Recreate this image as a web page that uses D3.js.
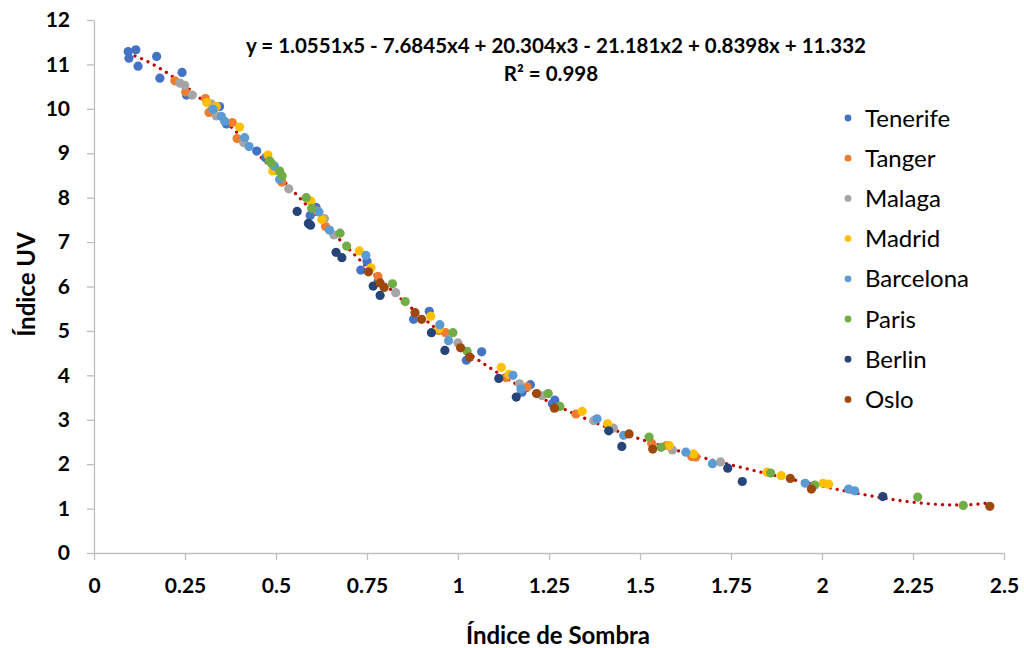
<!DOCTYPE html>
<html>
<head>
<meta charset="utf-8">
<script src="https://cdn.jsdelivr.net/npm/d3@7"></script>
<style>
  html, body { margin: 0; padding: 0; background: #fff; }
  svg text { font-family: Lato, "Noto Sans", sans-serif; }
</style>
</head>
<body>
<svg id="chart"></svg>
<script>
// ====== Données ====== //
const cities = ["Tenerife", "Tanger", "Malaga", "Madrid", "Barcelona", "Paris", "Berlin", "Oslo"];
const colors = ["#4472C4", "#ED7D31", "#A5A5A5", "#FFC000", "#5B9BD5", "#70AD47", "#264478", "#9E480E"];

// [indice de sombra, indice UV]
const tenerife = [[0.094,11.29],[0.115,11.33],[0.096,11.14],[0.121,10.96],[0.172,11.18],[0.181,10.69],[0.242,10.82],[0.254,10.31],[0.345,10.05],[0.364,9.66],[0.447,9.05],[0.471,8.9],[0.61,7.78],[0.594,7.6],[0.75,6.57],[0.733,6.37],[0.781,6.14],[0.921,5.44],[0.878,5.26],[1.023,4.34],[1.065,4.53],[1.199,3.79],[1.176,3.62],[1.259,3.36],[1.266,3.44]];
const tanger = [[0.222,10.63],[0.252,10.38],[0.306,10.23],[0.316,9.92],[0.38,9.69],[0.393,9.33],[0.516,8.35],[0.613,7.7],[0.636,7.35],[0.78,6.23],[0.966,4.96],[0.948,5.01],[1.131,3.95],[1.19,3.74],[1.324,3.13],[1.532,2.47],[1.573,2.42],[1.642,2.17],[1.653,2.16]];
const malaga = [[0.236,10.58],[0.249,10.53],[0.27,10.31],[0.322,10.11],[0.336,9.84],[0.411,9.24],[0.535,8.2],[0.633,7.53],[0.659,7.16],[0.829,5.86],[1.0,4.73],[1.169,3.81],[1.231,3.54],[1.373,2.98],[1.427,2.81],[1.589,2.32],[1.721,2.05]];
const madrid = [[0.31,10.14],[0.336,10.05],[0.4,9.59],[0.478,8.96],[0.491,8.6],[0.596,7.92],[0.626,7.51],[0.729,6.8],[0.761,6.42],[0.925,5.33],[0.948,5.05],[1.119,4.18],[1.14,4.02],[1.341,3.19],[1.411,2.91],[1.58,2.42],[1.647,2.23],[1.849,1.82],[1.888,1.74],[2.003,1.57],[2.018,1.55]];
const barcelona = [[0.327,9.99],[0.35,9.83],[0.359,9.72],[0.414,9.35],[0.426,9.15],[0.496,8.71],[0.51,8.41],[0.618,7.68],[0.647,7.27],[0.747,6.7],[0.95,5.14],[0.974,4.78],[1.151,4.0],[1.173,3.69],[1.382,3.02],[1.455,2.65],[1.626,2.27],[1.699,2.01],[1.954,1.57],[2.073,1.44],[2.09,1.4]];
const paris = [[0.482,8.83],[0.487,8.78],[0.51,8.6],[0.517,8.49],[0.583,8.0],[0.598,7.76],[0.676,7.2],[0.694,6.91],[0.82,6.06],[0.855,5.66],[0.986,4.96],[1.025,4.54],[1.248,3.59],[1.28,3.3],[1.525,2.61],[1.558,2.38],[1.859,1.8],[1.98,1.53],[2.263,1.26],[2.388,1.07]];
const berlin = [[0.558,7.69],[0.589,7.42],[0.595,7.38],[0.665,6.77],[0.681,6.65],[0.767,6.01],[0.786,5.8],[0.927,4.96],[0.964,4.56],[1.112,3.93],[1.16,3.51],[1.414,2.75],[1.45,2.4],[1.741,1.91],[1.781,1.61],[2.167,1.27]];
const oslo = [[0.754,6.33],[0.786,6.08],[0.797,5.98],[0.882,5.41],[0.9,5.26],[1.007,4.62],[1.032,4.41],[1.216,3.59],[1.265,3.26],[1.47,2.68],[1.535,2.34],[1.913,1.68],[1.971,1.44],[2.461,1.05]];

const seriesValues = [tenerife, tanger, malaga, madrid, barcelona, paris, berlin, oslo];

const xTicks = [0, 0.25, 0.5, 0.75, 1, 1.25, 1.5, 1.75, 2, 2.25, 2.5];
const yTicks = [0, 1, 2, 3, 4, 5, 6, 7, 8, 9, 10, 11, 12];

const equationLabel = "y = 1.0551x5 - 7.6845x4 + 20.304x3 - 21.181x2 + 0.8398x + 11.332";
const r2Label = "R² = 0.998";

// ====== Dimensions ====== //
const width = 1024;
const height = 648;

const svg = d3.select("#chart")
    .attr("width", width)
    .attr("height", height);

const x = d3.scaleLinear().domain([0, 2.5]).range([94, 1004]);
const y = d3.scaleLinear().domain([0, 12]).range([553, 20]);

// ====== Axes ====== //
const axisColor = "#BFBFBF";

const gx = svg.append("g")
    .attr("transform", `translate(0,${y(0)})`)
    .call(d3.axisBottom(x).tickValues(xTicks).tickSize(7).tickSizeOuter(0).tickPadding(18)
        .tickFormat(d => String(d)));

const gy = svg.append("g")
    .attr("transform", `translate(${x(0)},0)`)
    .call(d3.axisLeft(y).tickValues(yTicks).tickSize(7).tickSizeOuter(0).tickPadding(17)
        .tickFormat(d3.format("d")));

[gx, gy].forEach(g => {
    g.select(".domain").attr("stroke", axisColor).attr("stroke-width", 1.3);
    g.selectAll(".tick line").attr("stroke", axisColor).attr("stroke-width", 1.3);
    g.selectAll(".tick text")
        .attr("fill", "#000")
        .style("font-size", "21px")
        .style("font-weight", "bold");
});

// Titres des axes
svg.append("text")
    .attr("x", 558).attr("y", 644)
    .attr("text-anchor", "middle")
    .style("font-size", "24px").style("font-weight", "bold")
    .text("Índice de Sombra");

svg.append("text")
    .attr("transform", `translate(35,${(y(0) + y(12)) / 2 - 2}) rotate(-90)`)
    .attr("text-anchor", "middle")
    .style("font-size", "24px").style("font-weight", "bold")
    .text("Índice UV");

// ====== Courbe de tendance polynomiale (ordre 5, moindres carrés) ====== //
const allPoints = seriesValues.flat();
const degree = 5;

function polyFit(points, deg) {
    const n = deg + 1;
    const A = Array.from({length: n}, () => new Array(n + 1).fill(0));
    points.forEach(([px, py]) => {
        for (let i = 0; i < n; i++) {
            for (let j = 0; j < n; j++) A[i][j] += Math.pow(px, i + j);
            A[i][n] += Math.pow(px, i) * py;
        }
    });
    // élimination de Gauss
    for (let c = 0; c < n; c++) {
        let piv = c;
        for (let r = c + 1; r < n; r++) if (Math.abs(A[r][c]) > Math.abs(A[piv][c])) piv = r;
        [A[c], A[piv]] = [A[piv], A[c]];
        for (let r = 0; r < n; r++) {
            if (r === c) continue;
            const f = A[r][c] / A[c][c];
            for (let k = c; k <= n; k++) A[r][k] -= f * A[c][k];
        }
    }
    return A.map((row, i) => row[n] / row[i]);
}

const coefs = polyFit(allPoints, degree);
const evalPoly = v => coefs.reduce((s, c, i) => s + c * Math.pow(v, i), 0);

const [xMin, xMax] = d3.extent(allPoints, d => d[0]);
const trend = d3.range(0, 201).map(i => {
    const v = xMin + (xMax - xMin) * i / 200;
    return [v, evalPoly(v)];
});

svg.append("path")
    .datum(trend)
    .attr("fill", "none")
    .attr("stroke", "#C00000")
    .attr("stroke-width", 3.2)
    .attr("stroke-linecap", "round")
    .attr("stroke-dasharray", "0.1 7")
    .attr("d", d3.line().x(d => x(d[0])).y(d => y(d[1])));

// ====== Points ====== //
seriesValues.forEach((vals, i) => {
    svg.append("g")
        .selectAll("circle")
        .data(vals)
        .join("circle")
        .attr("cx", d => x(d[0]))
        .attr("cy", d => y(d[1]))
        .attr("r", 4.6)
        .attr("fill", colors[i]);
});

// ====== Équation ====== //
svg.append("text")
    .attr("x", 556).attr("y", 53)
    .attr("text-anchor", "middle")
    .style("font-size", "20.5px").style("font-weight", "bold")
    .text(equationLabel);

svg.append("text")
    .attr("x", 551).attr("y", 81)
    .attr("text-anchor", "middle")
    .style("font-size", "20.5px").style("font-weight", "bold")
    .text(r2Label);

// ====== Légende ====== //
const legend = svg.append("g");
cities.forEach((name, i) => {
    const ly = 118 + i * 40.2;
    legend.append("circle")
        .attr("cx", 848).attr("cy", ly)
        .attr("r", 3.4)
        .attr("fill", colors[i]);
    legend.append("text")
        .attr("x", 865).attr("y", ly)
        .attr("dy", "0.36em")
        .attr("fill", "#000")
        .style("font-size", "24px")
        .text(name);
});
</script>
</body>
</html>
